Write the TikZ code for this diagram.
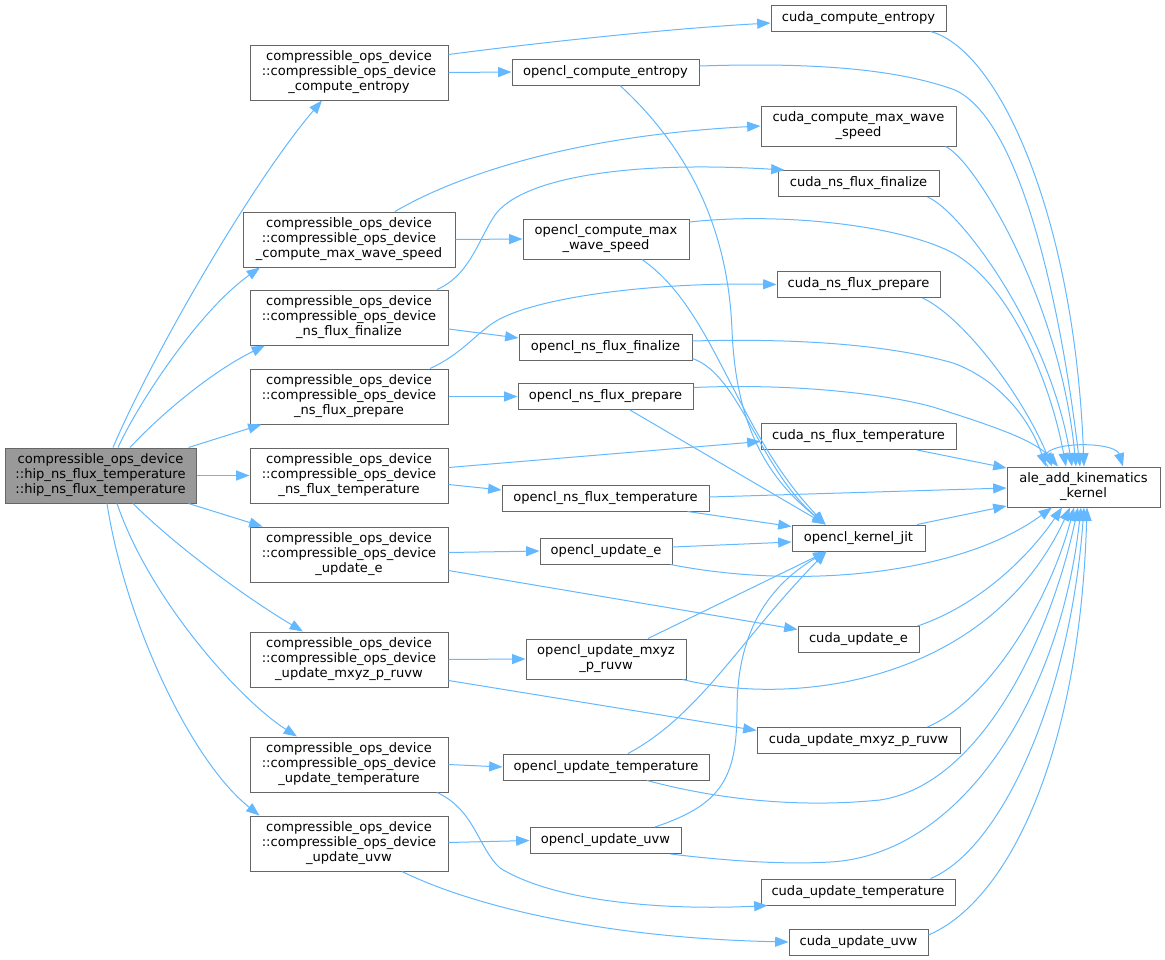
\documentclass[tikz,border=0pt]{standalone}
\usepackage{fontspec}
\setmainfont{DejaVu Sans}
\usetikzlibrary{arrows.meta,calc}
\definecolor{edgeblue}{HTML}{63B8FF}
\definecolor{boxgray}{HTML}{666666}
\definecolor{rootfill}{HTML}{999999}
\begin{document}
\begin{tikzpicture}[x=0.75pt,y=-0.75pt,
 box/.style={draw=boxgray,line width=0.75pt,fill=white,inner sep=0pt,align=center,font=\fontsize{9.8pt}{11.25pt}\selectfont},
 one/.style={box,minimum height=19.5pt},
 two/.style={box,minimum height=30pt},
 three/.style={box,minimum height=41.25pt},
 conn/.style={draw=edgeblue,line width=0.75pt,-{Triangle[length=10pt,width=7.5pt]}}]
\useasboundingbox (0,0) rectangle (1165,960);

% root
\node[three,fill=rootfill,minimum width=143.25pt] (root) at (100.5,475.5) {compressible\_ops\_device\\::hip\_ns\_flux\_temperature\\::hip\_ns\_flux\_temperature};

% column 2
\node[three,minimum width=148.5pt] (C1) at (349,72.5) {compressible\_ops\_device\\::compressible\_ops\_device\\\_compute\_entropy};
\node[three,minimum width=159pt] (C2) at (349,239.5) {compressible\_ops\_device\\::compressible\_ops\_device\\\_compute\_max\_wave\_speed};
\node[three,minimum width=148.5pt] (C3) at (349,317.5) {compressible\_ops\_device\\::compressible\_ops\_device\\\_ns\_flux\_finalize};
\node[three,minimum width=148.5pt] (C4) at (349,396.5) {compressible\_ops\_device\\::compressible\_ops\_device\\\_ns\_flux\_prepare};
\node[three,minimum width=148.5pt] (C5) at (349,475.5) {compressible\_ops\_device\\::compressible\_ops\_device\\\_ns\_flux\_temperature};
\node[three,minimum width=148.5pt] (C6) at (349,554.5) {compressible\_ops\_device\\::compressible\_ops\_device\\\_update\_e};
\node[three,minimum width=148.5pt] (C7) at (349,659.5) {compressible\_ops\_device\\::compressible\_ops\_device\\\_update\_mxyz\_p\_ruvw};
\node[three,minimum width=148.5pt] (C8) at (349,764.5) {compressible\_ops\_device\\::compressible\_ops\_device\\\_update\_temperature};
\node[three,minimum width=148.5pt] (C9) at (349,843.5) {compressible\_ops\_device\\::compressible\_ops\_device\\\_update\_uvw};

% column 3 (opencl)
\node[one,minimum width=140.25pt] (O1) at (605.5,72) {opencl\_compute\_entropy};
\node[two,minimum width=124.5pt] (O2) at (606,239) {opencl\_compute\_max\\\_wave\_speed};
\node[one,minimum width=129.75pt] (O3) at (605.5,347) {opencl\_ns\_flux\_finalize};
\node[one,minimum width=131.25pt] (O4) at (605.5,396.5) {opencl\_ns\_flux\_prepare};
\node[one,minimum width=155.25pt] (O5) at (605.5,498) {opencl\_ns\_flux\_temperature};
\node[one,minimum width=99pt] (O6) at (606,551) {opencl\_update\_e};
\node[two,minimum width=120pt] (O7) at (606,659) {opencl\_update\_mxyz\\\_p\_ruvw};
\node[one,minimum width=154.5pt] (O8) at (606,767) {opencl\_update\_temperature};
\node[one,minimum width=113.25pt] (O9) at (605.5,840.5) {opencl\_update\_uvw};

% column 4 (cuda)
\node[one,minimum width=131.25pt] (K1) at (858.5,18) {cuda\_compute\_entropy};
\node[two,minimum width=146.25pt] (K2) at (858.5,126) {cuda\_compute\_max\_wave\\\_speed};
\node[one,minimum width=120.75pt] (K3) at (858.5,183.5) {cuda\_ns\_flux\_finalize};
\node[one,minimum width=122.25pt] (K4) at (858.5,284.5) {cuda\_ns\_flux\_prepare};
\node[one,minimum width=146.25pt] (K5) at (858.5,436.5) {cuda\_ns\_flux\_temperature};
\node[one,minimum width=99.75pt] (jit) at (858.5,538) {opencl\_kernel\_jit};
\node[one,minimum width=90.75pt] (K6) at (858.5,639.5) {cuda\_update\_e};
\node[one,minimum width=152.25pt] (K7) at (858.5,740.5) {cuda\_update\_mxyz\_p\_ruvw};
\node[one,minimum width=145.5pt] (K8) at (858,892) {cuda\_update\_temperature};
\node[one,minimum width=104.25pt] (K9) at (858.5,942) {cuda\_update\_uvw};

% sink
\node[two,minimum width=114.75pt] (ale) at (1083.5,487) {ale\_add\_kinematics\\\_kernel};

% root -> column 2
\draw[conn] ($(root.north)+(12.5,0)$) .. controls (150,360) and (250,185) .. ($(C1.south)+(-27,0)$);
\draw[conn] ($(root.north)+(17.5,0)$) .. controls (140,400) and (200,310) .. ($(C2.south)+(-89,0)$);
\draw[conn] ($(root.north)+(29.5,0)$) .. controls (165,410) and (215,370) .. ($(C3.south)+(-84,0)$);
\draw[conn] ($(root.north east)+(-8,0)$) -- ($(C4.south west)+(12,0)$);
\draw[conn] (root.east) -- (C5.west);
\draw[conn] ($(root.south east)+(-8,0)$) -- ($(C6.north west)+(13,0)$);
\draw[conn] ($(root.south)+(32.5,0)$) .. controls (180,550) and (250,600) .. ($(C7.north)+(-46,0)$);
\draw[conn] ($(root.south)+(16.5,0)$) .. controls (150,600) and (240,700) .. ($(C8.north)+(-52,0)$);
\draw[conn] ($(root.south)+(6.5,0)$) .. controls (125,620) and (190,760) .. ($(C9.north west)+(10,0)$);

% column 2 -> opencl
\draw[conn] (C1.east) -- (O1.west);
\draw[conn] (C2.east) -- (O2.west);
\draw[conn] ($(C3.east)+(0,11.5)$) -- ($(O3.west)+(0,-9)$);
\draw[conn] (C4.east) -- (O4.west);
\draw[conn] ($(C5.east)+(0,9)$) -- ($(O5.west)+(0,-8)$);
\draw[conn] ($(C6.east)+(0,-2)$) -- (O6.west);
\draw[conn] (C7.east) -- (O7.west);
\draw[conn] (C8.east) -- (O8.west);
\draw[conn] ($(C9.east)+(0,-1)$) -- (O9.west);

% column 2 -> cuda
\draw[conn] ($(C1.east)+(0,-18)$) .. controls (560,40) and (680,28) .. ($(K1.west)+(0,5)$);
\draw[conn] ($(C2.north)+(46,0)$) .. controls (440,185) and (550,137) .. (K2.west);
\draw[conn] ($(C3.north)+(88,0)$) .. controls (470,275) and (478,240) .. (495,215) .. controls (520,180) and (620,160) .. ($(K3.north west)+(7,0)$);
\draw[conn] ($(C4.north)+(81,0)$) .. controls (460,355) and (475,335) .. (493,323) .. controls (530,298) and (650,282) .. (K4.west);
\draw[conn] ($(C5.east)+(0,-8)$) -- ($(K5.west)+(0,5)$);
\draw[conn] ($(C6.east)+(0,16)$) -- ($(K6.west)+(0,-10)$);
\draw[conn] ($(C7.east)+(0,21)$) -- ($(K7.west)+(0,-10)$);
\draw[conn] ($(C8.south)+(88,0)$) .. controls (475,810) and (478,848) .. (500,868) .. controls (560,905) and (680,910) .. ($(K8.south west)+(7,0)$);
\draw[conn] ($(C9.south)+(53,0)$) .. controls (470,905) and (600,938) .. (K9.west);

% opencl -> kernel_jit
\draw[conn] ($(O1.south)+(14.5,0)$) .. controls (690,150) and (728,230) .. (732,330) .. controls (736,430) and (770,480) .. ($(jit.north)+(-33,0)$);
\draw[conn] ($(O2.south)+(36,0)$) .. controls (715,310) and (735,430) .. ($(jit.north)+(-33,0)$);
\draw[conn] ($(O3.south east)+(0,-2)$) .. controls (740,375) and (760,470) .. ($(jit.north)+(-33,0)$);
\draw[conn] ($(O4.south)+(24.5,0)$) -- ($(jit.north)+(-33,0)$);
\draw[conn] ($(O5.south east)+(-22,0)$) -- ($(jit.north west)+(0,2)$);
\draw[conn] ($(O6.east)+(0,-4)$) -- ($(jit.west)+(0,4)$);
\draw[conn] ($(O7.north)+(42,0)$) -- ($(jit.south)+(-32,0)$);
\draw[conn] ($(O8.north)+(22,0)$) .. controls (700,715) and (740,640) .. ($(jit.south)+(-32,0)$);
\draw[conn] ($(O9.north)+(49.5,0)$) .. controls (720,805) and (737,780) .. (737,710) .. controls (737,630) and (770,585) .. ($(jit.south)+(-32,0)$);

% into ale (top)
\draw[conn] ($(K1.south east)+(-16,0)$) .. controls (1000,50) and (1075,220) .. ($(ale.north)+(0.5,0)$);
\draw[conn] ($(O1.east)+(0,-6)$) .. controls (820,62) and (900,70) .. (955,90) .. controls (1020,120) and (1060,300) .. ($(ale.north)+(-3.5,0)$);
\draw[conn] ($(K2.south east)+(-11,0)$) .. controls (975,160) and (1060,300) .. ($(ale.north)+(-7.5,0)$);
\draw[conn] ($(K3.south east)+(-12,0)$) .. controls (960,210) and (1050,330) .. ($(ale.north)+(-11.5,0)$);
\draw[conn] ($(O2.east)+(0,-17)$) .. controls (780,212) and (900,225) .. (953,253) .. controls (1010,285) and (1050,380) .. ($(ale.north)+(-17.5,0)$);
\draw[conn] ($(K4.south east)+(-18,0)$) .. controls (960,315) and (1020,390) .. ($(ale.north)+(-31.5,0)$);
\draw[conn] ($(O3.east)+(0,-6)$) .. controls (800,338) and (890,345) .. (953,363) .. controls (1000,380) and (1030,420) .. ($(ale.north)+(-37.5,0)$);
\draw[conn] ($(O4.east)+(0,-9)$) .. controls (800,383) and (890,395) .. (933,407) .. controls (990,425) and (1035,440) .. ($(ale.north)+(-25.5,0)$);
% self loop
\draw[conn] ($(ale.north)+(-35.5,0)$) .. controls (1025,440) and (1115,440) .. ($(ale.north)+(39.5,0)$);

% into ale (left)
\draw[conn] ($(K5.south)+(58.5,0)$) -- ($(ale.west)+(0,-19)$);
\draw[conn] ($(O5.east)+(0,-1)$) -- ($(ale.west)+(0,1)$);
\draw[conn] ($(jit.north)+(58.5,0)$) -- ($(ale.west)+(0,19)$);

% into ale (bottom)
\draw[conn] ($(O6.south east)+(-2,0)$) .. controls (800,590) and (960,575) .. ($(ale.south)+(-31.5,0)$);
\draw[conn] ($(K6.north east)+(-2,0)$) .. controls (980,605) and (1030,555) .. ($(ale.south)+(-21.5,0)$);
\draw[conn] ($(O7.south east)+(-4,0)$) .. controls (800,708) and (990,680) .. ($(ale.south)+(-13.5,0)$);
\draw[conn] ($(K7.north east)+(-33,0)$) .. controls (990,700) and (1050,600) .. ($(ale.south)+(-9.5,0)$);
\draw[conn] ($(O8.south)+(41,0)$) .. controls (720,800) and (800,808) .. (880,800) .. controls (980,785) and (1050,640) .. ($(ale.south)+(-5.5,0)$);
\draw[conn] ($(O9.south east)+(-11,0)$) .. controls (720,860) and (780,865) .. (830,862) .. controls (960,855) and (1060,700) .. ($(ale.south)+(-2.5,0)$);
\draw[conn] ($(K8.north east)+(-25,0)$) .. controls (1000,850) and (1070,700) .. ($(ale.south)+(0.5,0)$);
\draw[conn] ($(K9.east)+(0,-7)$) .. controls (1010,900) and (1080,750) .. ($(ale.south)+(3.5,0)$);
\end{tikzpicture}
\end{document}
